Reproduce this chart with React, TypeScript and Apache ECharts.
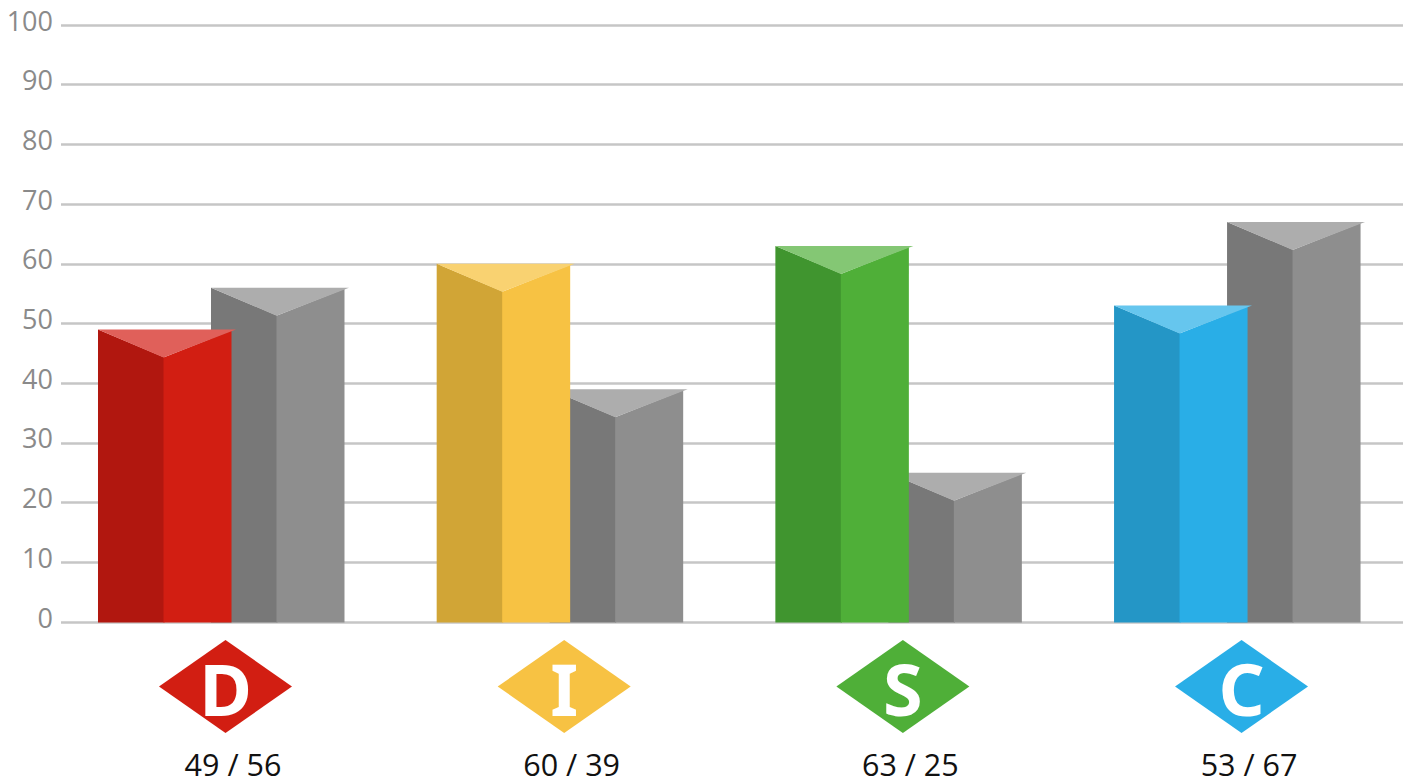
import React, { useEffect, useRef } from "react";
import * as echarts from "echarts";

// DISC profile: each letter has a coloured prism and a grey companion prism.
const categories = ["D", "I", "S", "C"];
const primaryValues = [49, 60, 63, 53];
const secondaryValues = [56, 39, 25, 67];
const faceColors = [
  { top: "#E0605A", left: "#B1170F", right: "#D21E12" },
  { top: "#F9D271", left: "#D1A536", right: "#F7C243" },
  { top: "#84C774", left: "#40952F", right: "#4FAF38" },
  { top: "#66C6EE", left: "#2496C6", right: "#29AEE7" },
];
const greyFaces = { top: "#ADADAD", left: "#787878", right: "#8E8E8E" };

const FONT = '"Open Sans", "Noto Sans", sans-serif';
const BADGE_FONT = '"Noto Sans", "Open Sans", sans-serif';
const PRISM_W = 133.5;
const FOLD_X = 65.5;
const FOLD_DROP = 28;
const TIP = 4.5;

// Draws one prism: two side faces meeting at a fold, and a triangular top face.
function prism(x0: number, yTop: number, yBase: number, faces: { top: string; left: string; right: string }) {
  const fold = x0 + FOLD_X;
  const right = x0 + PRISM_W;
  return {
    type: "group",
    children: [
      {
        type: "polygon",
        shape: { points: [[x0, yTop], [fold + 1, yTop + FOLD_DROP], [fold + 1, yBase], [x0, yBase]] },
        style: { fill: faces.left },
      },
      {
        type: "polygon",
        shape: { points: [[fold, yTop + FOLD_DROP], [right, yTop + 1], [right, yBase], [fold, yBase]] },
        style: { fill: faces.right },
      },
      {
        type: "polygon",
        shape: { points: [[x0, yTop], [right + TIP, yTop], [fold, yTop + FOLD_DROP]] },
        style: { fill: faces.top },
      },
    ],
  };
}

function prismRenderer(offset: number, colorOf: (i: number) => { top: string; left: string; right: string }) {
  return (params: any, api: any) => {
    const [cx, yTop] = api.coord([api.value(0), api.value(1)]);
    const [, yBase] = api.coord([api.value(0), 0]);
    return prism(cx + offset, yTop, yBase + 0.5, colorOf(params.dataIndex));
  };
}

// Diamond badge with the letter, and the "primary / secondary" caption below it.
function badgeRenderer(params: any, api: any) {
  const i = params.dataIndex;
  const [cx] = api.coord([api.value(0), 0]);
  const bx = cx + 4.5;
  const by = 686.5;
  return {
    type: "group",
    children: [
      {
        type: "polygon",
        shape: { points: [[bx - 66.5, by], [bx, by - 46.5], [bx + 66.5, by], [bx, by + 46.5]] },
        style: { fill: faceColors[i].right },
      },
      {
        type: "text",
        style: {
          text: categories[i],
          x: bx,
          y: by + 1,
          fill: "#FFFFFF",
          fontFamily: BADGE_FONT,
          fontWeight: "bold",
          fontSize: 72,
          textAlign: "center",
          textVerticalAlign: "middle",
        },
      },
      {
        type: "text",
        style: {
          text: `${primaryValues[i]} / ${secondaryValues[i]}`,
          x: cx + 12,
          y: 763.5,
          fill: "#111111",
          fontFamily: FONT,
          fontSize: 30.5,
          lineHeight: 30,
          textAlign: "center",
          textVerticalAlign: "middle",
        },
      },
    ],
  };
}

export default function App() {
  const ref = useRef<HTMLDivElement>(null);

  useEffect(() => {
    const chart = echarts.init(ref.current!, undefined, { renderer: "svg" });
    chart.setOption({
      animation: false,
      backgroundColor: "#FFFFFF",
      grid: { left: 61, right: 8, top: 25, height: 597 },
      xAxis: { type: "value", min: -0.4724, max: 3.49, show: false },
      yAxis: {
        type: "value",
        min: 0,
        max: 100,
        interval: 10,
        axisLine: { show: false },
        axisTick: { show: false },
        axisLabel: {
          color: "#8A8A8A",
          fontSize: 27,
          fontFamily: FONT,
          margin: 8,
          verticalAlign: "bottom",
          lineHeight: 10,
        },
        splitLine: { lineStyle: { color: "#C6C6C6", width: 2.5 } },
      },
      series: [
        {
          type: "custom",
          name: "secondary",
          renderItem: prismRenderer(-10, () => greyFaces),
          data: secondaryValues.map((v, i) => [i, v]),
          z: 2,
        },
        {
          type: "custom",
          name: "primary",
          renderItem: prismRenderer(-123, (i) => faceColors[i]),
          data: primaryValues.map((v, i) => [i, v]),
          z: 3,
        },
        {
          type: "custom",
          name: "badges",
          renderItem: badgeRenderer,
          data: categories.map((_, i) => [i, 0]),
          z: 4,
        },
      ],
    });
    return () => chart.dispose();
  }, []);

  return <div ref={ref} style={{ position: "fixed", left: 0, top: 0, width: 1411, height: 780 }} />;
}
